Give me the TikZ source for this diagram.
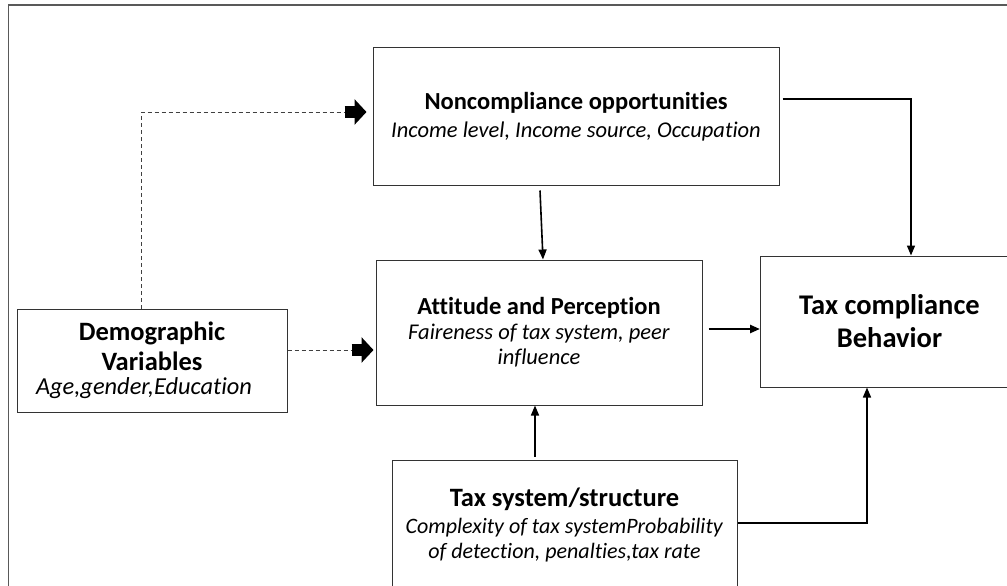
\documentclass[tikz,border=0pt]{standalone}
\usepackage{fontspec}
\setmainfont{Carlito}[Ligatures=NoCommon]
\usetikzlibrary{arrows.meta,calc}
\begin{document}
\begin{tikzpicture}[x=1pt,y=-1pt,
  box/.style={draw=black!80, line width=1pt, align=center, inner sep=0pt,
    font=\fontsize{22.5}{25}\selectfont},
  conn/.style={line width=1.6pt, black, -{Triangle[width=8pt,length=10pt]}},
  dashconn/.style={line width=1pt, black!75, dash pattern=on 4pt off 3pt},
  fathead/.style={line width=12pt, -{Triangle[width=25pt,length=12pt]}},
  frame/.style={line width=1.5pt, black!65}
]
\newcommand{\ttl}[2][24.5]{\textbf{\fontsize{#1}{25}\selectfont #2}}
\newcommand{\sub}[2][22.5]{\textit{\fontsize{#1}{25}\selectfont #2}}
\useasboundingbox (0,0) rectangle (1007,586);
\draw[frame] (8.5,600) |- (1020,5);

\node[box, minimum width=406pt, minimum height=137pt] (noncomp) at (576,116.5)
  {\ttl{Noncompliance opportunities}\\[3pt]
   \sub{Income level, Income source, Occupation}};
\node[box, minimum width=326pt, minimum height=145pt] (att) at (539,332.5)
  {\ttl{Attitude and Perception}\\
   \sub{Faireness of tax system, peer}\\ \sub{influence}};
\node[box, minimum width=258pt, minimum height=131pt, font=\bfseries\fontsize{28.5}{33}\selectfont] (tcb) at (889.5,321.5)
  {Tax compliance\\Behavior};
\node[box, minimum width=270pt, minimum height=103pt] (demo) at (152,360.5)
  {\ttl[26.5]{Demographic}\\[5pt]
   \ttl[26.5]{Variables}\\[-1pt]
   \sub[24.4]{Age,gender,Education}\hspace*{16pt}};
\node[box, minimum width=345pt, minimum height=130pt] (tsys) at (564.5,525)
  {\ttl[26.5]{Tax system/structure}\\[2pt]
   \sub[22]{Complexity of tax systemProbability}\\
   \sub[22]{of detection, penalties,tax rate}};

% dashed connectors with fat heads
\coordinate (d1) at ($(demo.north)+(-11,0)$);
\coordinate (h1) at ($(noncomp.west)+(-28,-4.5)$);
\coordinate (e1) at ($(noncomp.west)+(-6,-4.5)$);
\draw[dashconn] (d1) |- (h1);
\draw[fathead] (h1) -- (e1);
\coordinate (d2) at ($(demo.east)+(0,-10.5)$);
\coordinate (h2) at ($(att.west)+(-24,17.5)$);
\coordinate (e2) at ($(att.west)+(-2,17.5)$);
\draw[dashconn] (d2) -- (h2);
\draw[fathead] (h2) -- (e2);

% solid connectors
\coordinate (s1) at ($(noncomp.south)+(-36,5)$);
\draw[conn] (s1) -- ($(att.north)+(4,0)$);
\coordinate (s2) at ($(noncomp.east)+(3,-17.5)$);
\draw[conn] (s2) -| ($(tcb.north)+(21.5,0)$);
\coordinate (s3) at ($(att.east)+(6,-3.5)$);
\draw[conn, line width=2.4pt] (s3) -- (s3 -| tcb.west);
\coordinate (s4) at ($(tsys.north)+(-29.5,-3)$);
\draw[conn] (s4) -- ($(att.south)+(-4,0)$);
\coordinate (s5) at ($(tsys.east)+(0,-2)$);
\draw[conn] (s5) -| ($(tcb.south)+(-22.5,0)$);
\end{tikzpicture}
\end{document}
